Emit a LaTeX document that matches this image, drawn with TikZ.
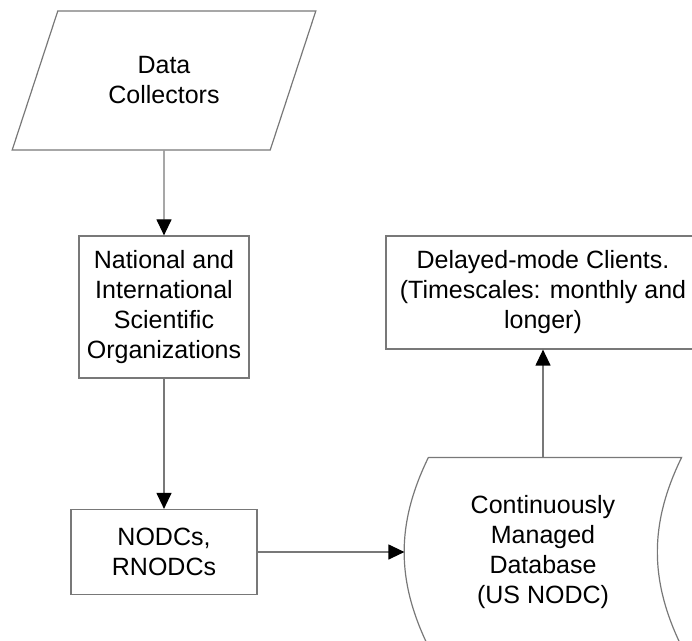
\documentclass[tikz,border=0pt]{standalone}
\usepackage{fontspec}
\setmainfont{Liberation Sans}
\usetikzlibrary{shapes.geometric,arrows.meta}
\definecolor{linegray}{RGB}{120,120,120}

\begin{document}
\begin{tikzpicture}[x=1pt,y=1pt,>={Triangle[width=15pt,length=16pt,color=black]},line width=1.2pt,
    every node/.style={font=\fontsize{25}{30}\selectfont,align=center,text=black},
    box/.style={rectangle,draw=linegray,inner sep=0pt},
    io node/.style={trapezium,draw=linegray,trapezium left angle=63.3,trapezium right angle=116.7,trapezium stretches=true,minimum width=304pt,minimum height=139pt,inner sep=0pt},
    store node/.style={draw=none,minimum width=276pt,minimum height=188pt,inner sep=0pt},
    link/.style={->,draw=linegray}]
                \useasboundingbox (0,0) rectangle (692,640);
                \clip (0,0) rectangle (692,640);

                \node[io node] (data) at (164,559.5) {Data\\Collectors};
                \node[box,minimum width=170pt,minimum height=142pt] (nio) at (164,333) {National and\\International\\Scientific\\Organizations};
                \node[box,minimum width=186pt,minimum height=85pt] (nodcs) at (164,88) {NODCs,\\RNODCs};
                \node[store node] (db) at (543,88) {Continuously\\Managed\\Database\\(US NODC)};
                \node[box,minimum width=314pt,minimum height=113pt] (clients) at (543,347.5) {Delayed-mode Clients.\\(Timescales: monthly and\\longer)};

                % stored data outline
                \draw[linegray]
                ([xshift=24pt]db.north west) -- (db.north east)
                to[bend right=26] (db.south east)
                -- ([xshift=24pt]db.south west)
                to[bend left=26] ([xshift=24pt]db.north west);

                \path[link]
                    (data) edge (nio)
                    (nio) edge (nodcs)
                    (nodcs) edge (db)
                    (db) edge (clients)
                    ;
            \end{tikzpicture}
\end{document}
